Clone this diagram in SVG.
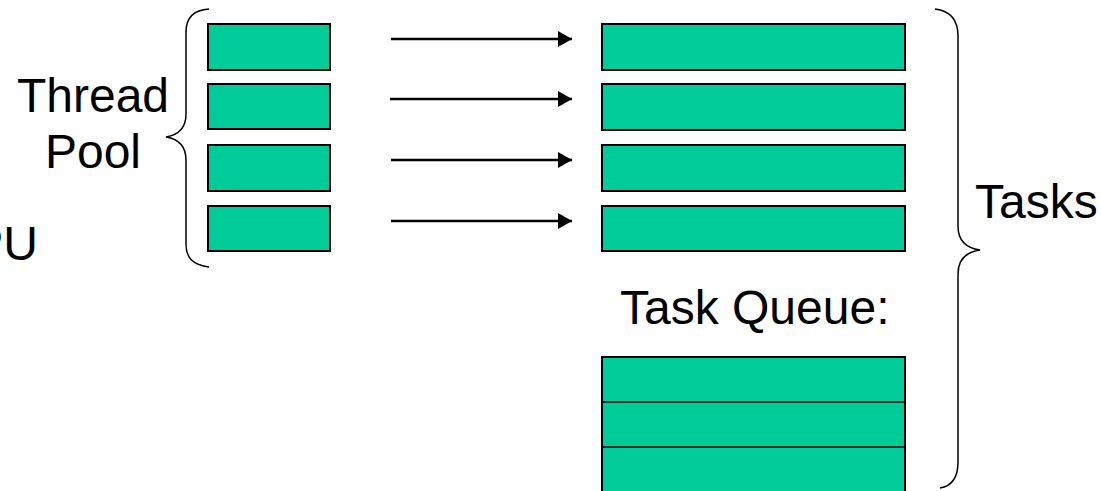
<svg xmlns="http://www.w3.org/2000/svg" width="1101" height="491" viewBox="0 0 1101 491">
<style>
.box{fill:#00CC99;stroke:#000;stroke-width:2}
.qline{stroke:#000;stroke-width:1.5}
.arrow{stroke:#000;stroke-width:2.5;fill:none}
.brace{stroke:#000;stroke-width:1.5;fill:none}
.lbl{font-family:"Liberation Sans",Arial,sans-serif;font-size:48px;fill:#000}
</style>
<defs>
<marker id="ah" viewBox="0 0 14 16" refX="14" refY="8" markerWidth="14" markerHeight="16" markerUnits="userSpaceOnUse" orient="auto">
<path d="M0,0 L14,8 L0,16 Z" fill="#000"/>
</marker>
</defs>
<rect width="1101" height="491" fill="#fff"/>
<g id="label-cpu"><text class="lbl" x="38" y="260" text-anchor="end">PU</text></g>
<g id="label-threadpool"><text class="lbl" text-anchor="middle"><tspan x="93" y="112">Thread</tspan><tspan x="93" y="168">Pool</tspan></text></g>
<g id="brace-left"><path class="brace" d="M209,9 C193,10 186,18 186,32 L186,114 C186,128 178,135 166,137 C178,139 186,146 186,160 L186,244 C186,258 193,265 209,267"/></g>
<g id="thread1"><rect class="box" x="208" y="24" width="122" height="46"/></g>
<g id="thread2"><rect class="box" x="208" y="84" width="122" height="45"/></g>
<g id="thread3"><rect class="box" x="208" y="145" width="122" height="46"/></g>
<g id="thread4"><rect class="box" x="208" y="206" width="122" height="45"/></g>
<g id="task1"><rect class="box" x="602" y="24" width="303" height="46"/></g>
<g id="task2"><rect class="box" x="602" y="84" width="303" height="46"/></g>
<g id="task3"><rect class="box" x="602" y="145" width="303" height="46"/></g>
<g id="task4"><rect class="box" x="602" y="206" width="303" height="45"/></g>
<g id="label-taskqueue"><text class="lbl" x="620" y="324">Task Queue:</text></g>
<g id="queue">
<rect class="box" x="602" y="357" width="303" height="140"/>
<line class="qline" x1="602" y1="402" x2="905" y2="402"/>
<line class="qline" x1="602" y1="447" x2="905" y2="447"/>
</g>
<g id="brace-right"><path class="brace" d="M935,9 C951,11 958,20 958,36 L958,226 C958,241 966,248 980,250 C966,252 958,259 958,274 L958,462 C958,478 952,486 940,488"/></g>
<g id="label-tasks"><text class="lbl" x="975" y="218">Tasks</text></g>
<g id="connectors">
<line class="arrow" x1="391" y1="39" x2="572" y2="39" marker-end="url(#ah)"/>
<line class="arrow" x1="390" y1="99" x2="572" y2="99" marker-end="url(#ah)"/>
<line class="arrow" x1="391" y1="160" x2="572" y2="160" marker-end="url(#ah)"/>
<line class="arrow" x1="391" y1="221" x2="572" y2="221" marker-end="url(#ah)"/>
</g>
</svg>
